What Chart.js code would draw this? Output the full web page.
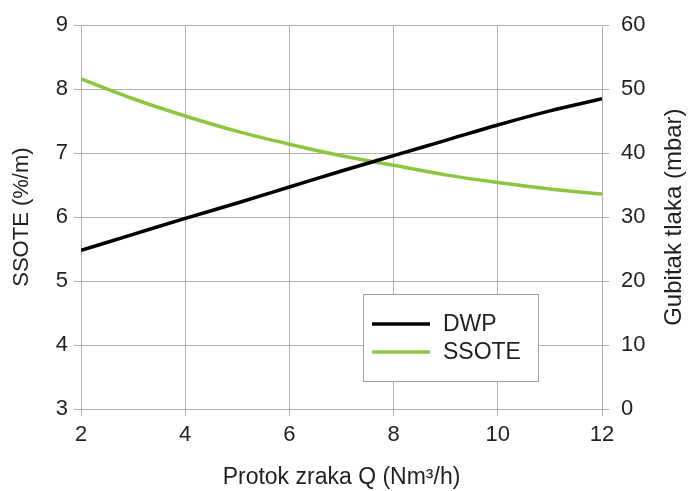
<!DOCTYPE html>
<html>
<head>
<meta charset="utf-8">
<script src="https://cdn.jsdelivr.net/npm/chart.js@4.4.0/dist/chart.umd.min.js"></script>
<style>
  html, body { margin: 0; padding: 0; background: #fff; }
  #grafikon { display: block; }
</style>
</head>
<body>
<canvas id="grafikon" width="688" height="491"></canvas>
<script>
// ---- podaci ----
const protok = [2, 3, 4, 5, 6, 7, 8, 9, 10, 11, 12];               // Nm3/h
const ssote = [8.16, 7.85, 7.58, 7.34, 7.14, 6.96, 6.81, 6.66, 6.54, 6.44, 6.36]; // %/m
const dwp = [24.8, 27.3, 29.8, 32.2, 34.7, 37.2, 39.6, 42.0, 44.4, 46.6, 48.5];   // mbar
const lijeviTick = [3, 4, 5, 6, 7, 8, 9];
const desniTick = [0, 10, 20, 30, 40, 50, 60];
const xTick = [2, 4, 6, 8, 10, 12];

const FONT = '"Liberation Sans", Arial, sans-serif';
const TEKST = '#231f20';
const MREZA = '#b0b0b0';
const ZELENA = '#8cc63f';

function tocke(ys) {
    return protok.map((x, i) => ({ x: x, y: ys[i] }));
}

// legenda u okviru unutar grafa + desni naslov (čita se odozdo prema gore)
const dodatci = {
    id: 'dodatci',
    afterDraw(chart) {
        const c = chart.ctx;
        const ca = chart.chartArea;
        c.save();
        // okvir legende
        const bx = 363, by = 294, bw = 175, bh = 87;
        c.fillStyle = '#fff';
        c.fillRect(bx, by, bw, bh);
        c.strokeStyle = '#a0a0a0';
        c.lineWidth = 1;
        c.strokeRect(bx + 0.5, by + 0.5, bw, bh);
        c.font = '23px ' + FONT;
        c.textBaseline = 'middle';
        c.textAlign = 'left';
        chart.data.datasets.forEach((ds, i) => {
            const y = 324 + i * 28;
            c.strokeStyle = ds.borderColor;
            c.lineWidth = 3.5;
            c.beginPath();
            c.moveTo(372, y);
            c.lineTo(430, y);
            c.stroke();
            c.fillStyle = TEKST;
            c.fillText(ds.label, 443, y + 1);
        });
        // desni naslov
        c.font = '24px ' + FONT;
        c.translate(674, (ca.top + ca.bottom) / 2);
        c.rotate(-Math.PI / 2);
        c.textAlign = 'center';
        c.fillStyle = TEKST;
        c.fillText('Gubitak tlaka (mbar)', 0, 0);
        c.restore();
    }
};

new Chart(document.getElementById('grafikon'), {
    type: 'line',
    data: {
        datasets: [
            {
                label: 'DWP',
                data: tocke(dwp),
                yAxisID: 'yDesna',
                borderColor: '#000',
                borderWidth: 3.5,
                pointRadius: 0,
                cubicInterpolationMode: 'monotone'
            },
            {
                label: 'SSOTE',
                data: tocke(ssote),
                yAxisID: 'y',
                borderColor: ZELENA,
                borderWidth: 3.5,
                pointRadius: 0,
                cubicInterpolationMode: 'monotone'
            }
        ]
    },
    options: {
        responsive: false,
        animation: false,
        layout: { padding: { top: 25, left: 0, right: 0, bottom: 0 } },
        plugins: { legend: { display: false }, tooltip: { enabled: false } },
        scales: {
            x: {
                type: 'linear',
                min: 2,
                max: 12,
                afterBuildTicks: s => { s.ticks = xTick.map(v => ({ value: v })); },
                afterFit: s => { s.height = 82; },
                grid: { color: MREZA, tickLength: 7, tickColor: MREZA },
                border: { color: MREZA },
                ticks: { padding: 6, color: TEKST, font: { family: FONT, size: 22 } },
                title: {
                    display: true,
                    text: 'Protok zraka Q (Nm³/h)',
                    color: TEKST,
                    font: { family: FONT, size: 23 },
                    padding: { top: 4, bottom: 0 }
                }
            },
            y: {
                position: 'left',
                min: 3,
                max: 9,
                afterBuildTicks: s => { s.ticks = lijeviTick.map(v => ({ value: v })); },
                afterFit: s => { s.width = 81; },
                grid: { color: MREZA, tickLength: 7, tickColor: MREZA },
                border: { color: MREZA },
                ticks: { padding: 6, color: TEKST, font: { family: FONT, size: 22 } },
                title: {
                    display: true,
                    text: 'SSOTE (%/m)',
                    color: TEKST,
                    font: { family: FONT, size: 22 },
                    padding: { top: 9, bottom: 0 }
                }
            },
            yDesna: {
                position: 'right',
                min: 0,
                max: 60,
                afterBuildTicks: s => { s.ticks = desniTick.map(v => ({ value: v })); },
                afterFit: s => { s.width = 86; },
                grid: { drawOnChartArea: false, color: MREZA, tickLength: 7, tickColor: MREZA },
                border: { color: MREZA },
                ticks: { padding: 12, color: TEKST, font: { family: FONT, size: 22 } }
            }
        }
    },
    plugins: [dodatci]
});
</script>
</body>
</html>
